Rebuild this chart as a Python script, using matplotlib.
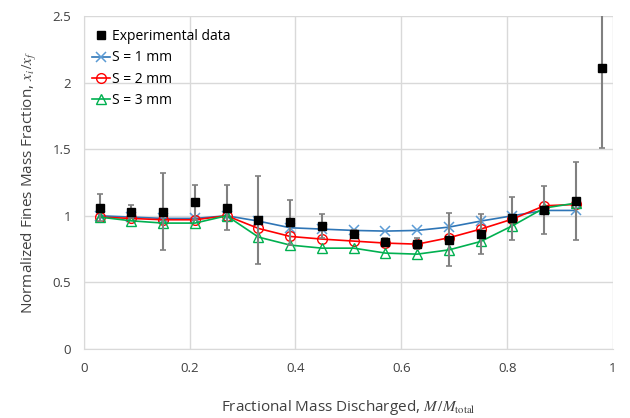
import matplotlib
matplotlib.use("Agg")
import matplotlib.pyplot as plt
from matplotlib.lines import Line2D
import numpy as np

plt.rcParams['font.family'] = ['Open Sans', 'DejaVu Sans']
plt.rcParams['mathtext.fontset'] = 'stix'

# Experimental measurements with error bars
exp_x = [0.03, 0.09, 0.15, 0.21, 0.27, 0.33, 0.39, 0.45, 0.51, 0.57, 0.63,
         0.69, 0.75, 0.81, 0.87, 0.93, 0.98]
exp_y = [1.06, 1.03, 1.03, 1.10, 1.06, 0.97, 0.95, 0.92, 0.86, 0.80, 0.79,
         0.82, 0.86, 0.98, 1.04, 1.11, 2.11]
exp_err = [0.10, 0.05, 0.29, 0.13, 0.17, 0.33, 0.17, 0.09, 0.03, 0.03, 0.04,
           0.20, 0.15, 0.16, 0.18, 0.29, 0.60]

# Model predictions for three values of S
model_x = [0.03, 0.09, 0.15, 0.21, 0.27, 0.33, 0.39, 0.45, 0.51, 0.57, 0.63,
           0.69, 0.75, 0.81, 0.87, 0.93]
s1 = [1.00, 0.99, 0.98, 0.98, 1.00, 0.96, 0.91, 0.90, 0.89, 0.885, 0.89,
      0.915, 0.96, 1.00, 1.04, 1.04]
s2 = [0.99, 0.98, 0.97, 0.97, 1.00, 0.905, 0.845, 0.825, 0.81, 0.795, 0.787,
      0.835, 0.90, 0.975, 1.075, 1.085]
s3 = [0.99, 0.962, 0.945, 0.945, 1.00, 0.84, 0.78, 0.757, 0.757, 0.72, 0.712,
      0.744, 0.807, 0.925, 1.058, 1.095]

text_color = '#404040'

fig = plt.figure(figsize=(6.3, 4.18), dpi=100)
ax = fig.add_axes([0.133, 0.165, 0.84, 0.797])

l1, = ax.plot(model_x, s1, color='#2E75B6', lw=1.2, marker='x', ms=7, mew=1.1,
              mec='#5B9BD5', label='S = 1 mm', zorder=3)
l2, = ax.plot(model_x, s2, color='#FF0000', lw=1.2, marker='o', ms=7, mfc='none',
              mew=1.0, label='S = 2 mm', zorder=3)
l3, = ax.plot(model_x, s3, color='#00B050', lw=1.2, marker='^', ms=7, mfc='none',
              mew=1.0, label='S = 3 mm', zorder=3)
ax.errorbar(exp_x, exp_y, yerr=exp_err, fmt='s', color='black', ms=6,
            ecolor='#808080', elinewidth=1.5, capsize=2, capthick=1.2,
            zorder=4)

ax.set_xlim(0, 1)
ax.set_ylim(0, 2.5)
ax.set_xticks(np.arange(0, 1.01, 0.2))
ax.set_xticklabels(['0', '0.2', '0.4', '0.6', '0.8', '1'])
ax.set_yticks(np.arange(0, 2.51, 0.5))
ax.set_yticklabels(['0', '0.5', '1', '1.5', '2', '2.5'])
ax.grid(True, color='#D9D9D9', lw=1.0)
ax.set_axisbelow(True)
for side in ['top', 'right']:
    ax.spines[side].set_visible(False)
for side in ['left', 'bottom']:
    ax.spines[side].set_color('#D9D9D9')
ax.tick_params(length=0, labelsize=9.5, colors=text_color, pad=9)

ax.set_xlabel(r'Fractional Mass Discharged, $M\,/M_{\mathrm{total}}$',
              fontsize=11, color=text_color, labelpad=17)
ax.set_ylabel(r'Normalized Fines Mass Fraction, $x_i\,/x_f$',
              fontsize=11, color=text_color, labelpad=10)

exp_handle = Line2D([], [], ls='none', marker='s', color='black', ms=6)
leg = ax.legend([exp_handle, l1, l2, l3],
                ['Experimental data', 'S = 1 mm', 'S = 2 mm', 'S = 3 mm'],
                loc='upper left', bbox_to_anchor=(0.0, 0.985), frameon=False,
                fontsize=10, handlelength=1.3, handletextpad=0.15,
                labelspacing=0.45, borderaxespad=0.2)
for t in leg.get_texts():
    t.set_color('black')

fig.savefig('out.png', dpi=100)
